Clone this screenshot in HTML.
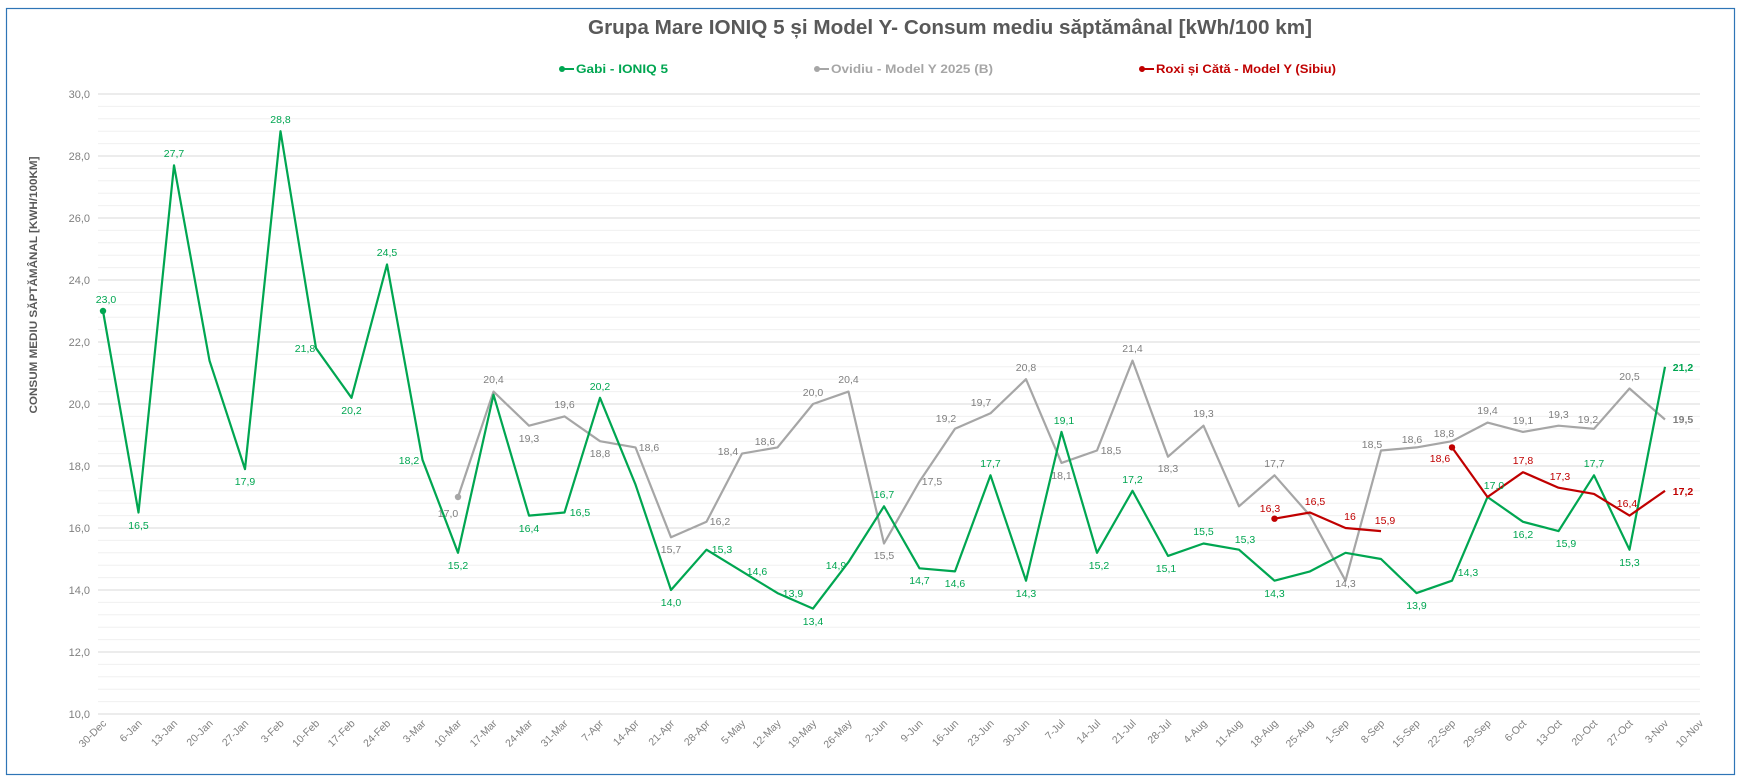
<!DOCTYPE html>
<html><head><meta charset="utf-8"><style>
html,body{margin:0;padding:0;background:#fff;}
svg{display:block;font-family:"Liberation Sans",sans-serif;}
.g{fill:#00a651;} .gr{fill:#7f7f7f;} .r{fill:#c00000;}
.xl{font-size:10.5px;fill:#808080;}
.yl{font-size:11px;fill:#808080;}
.dl text{font-size:10.5px;text-anchor:middle;}
</style></head><body>
<svg width="1745" height="783" viewBox="0 0 1745 783" xmlns="http://www.w3.org/2000/svg">
<rect x="0" y="0" width="1745" height="783" fill="#fff"/>
<rect x="6.5" y="8.5" width="1728" height="766" fill="#fff" stroke="#2e75b6" stroke-width="1.2"/>
<text x="950" y="34" text-anchor="middle" font-size="20" font-weight="bold" fill="#595959" textLength="724" lengthAdjust="spacingAndGlyphs">Grupa Mare IONIQ 5 și Model Y- Consum mediu săptămânal [kWh/100 km]</text>
<g font-size="12" font-weight="bold">
<line x1="560" y1="69" x2="574" y2="69" stroke="#00a651" stroke-width="2"/><circle cx="562" cy="69" r="3" fill="#00a651"/>
<text x="576" y="73" fill="#00a651" textLength="92" lengthAdjust="spacingAndGlyphs">Gabi - IONIQ 5</text>
<line x1="815" y1="69" x2="829" y2="69" stroke="#a6a6a6" stroke-width="2"/><circle cx="817" cy="69" r="3" fill="#a6a6a6"/>
<text x="831" y="73" fill="#a6a6a6" textLength="162" lengthAdjust="spacingAndGlyphs">Ovidiu - Model Y 2025 (B)</text>
<line x1="1140" y1="69" x2="1154" y2="69" stroke="#c00000" stroke-width="2"/><circle cx="1142" cy="69" r="3" fill="#c00000"/>
<text x="1156" y="73" fill="#c00000" textLength="180" lengthAdjust="spacingAndGlyphs">Roxi și Cătă - Model Y (Sibiu)</text>
</g>
<path d="M98 106.4H1700M98 118.8H1700M98 131.2H1700M98 143.6H1700M98 168.4H1700M98 180.8H1700M98 193.2H1700M98 205.6H1700M98 230.4H1700M98 242.8H1700M98 255.2H1700M98 267.6H1700M98 292.4H1700M98 304.8H1700M98 317.2H1700M98 329.6H1700M98 354.4H1700M98 366.8H1700M98 379.2H1700M98 391.6H1700M98 416.4H1700M98 428.8H1700M98 441.2H1700M98 453.6H1700M98 478.4H1700M98 490.8H1700M98 503.2H1700M98 515.6H1700M98 540.4H1700M98 552.8H1700M98 565.2H1700M98 577.6H1700M98 602.4H1700M98 614.8H1700M98 627.2H1700M98 639.6H1700M98 664.4H1700M98 676.8H1700M98 689.2H1700M98 701.6H1700" stroke="#f0f0f0" stroke-width="1"/>
<path d="M98 94H1700M98 156H1700M98 218H1700M98 280H1700M98 342H1700M98 404H1700M98 466H1700M98 528H1700M98 590H1700M98 652H1700M98 714H1700" stroke="#d9d9d9" stroke-width="1"/>
<g class="yl" text-anchor="end">
<text x="90" y="98">30,0</text><text x="90" y="160">28,0</text><text x="90" y="222">26,0</text><text x="90" y="284">24,0</text><text x="90" y="346">22,0</text><text x="90" y="408">20,0</text><text x="90" y="470">18,0</text><text x="90" y="532">16,0</text><text x="90" y="594">14,0</text><text x="90" y="656">12,0</text><text x="90" y="718">10,0</text>
</g>
<text transform="translate(37,285) rotate(-90)" text-anchor="middle" font-size="11" font-weight="bold" fill="#595959" textLength="257" lengthAdjust="spacingAndGlyphs">CONSUM MEDIU SĂPTĂMÂNAL [KWH/100KM]</text>
<g class="xl" text-anchor="end">
<text transform="translate(107,724) rotate(-45)">30-Dec</text>
<text transform="translate(142.5,724) rotate(-45)">6-Jan</text>
<text transform="translate(178,724) rotate(-45)">13-Jan</text>
<text transform="translate(213.5,724) rotate(-45)">20-Jan</text>
<text transform="translate(249,724) rotate(-45)">27-Jan</text>
<text transform="translate(284.5,724) rotate(-45)">3-Feb</text>
<text transform="translate(320,724) rotate(-45)">10-Feb</text>
<text transform="translate(355.5,724) rotate(-45)">17-Feb</text>
<text transform="translate(391,724) rotate(-45)">24-Feb</text>
<text transform="translate(426.5,724) rotate(-45)">3-Mar</text>
<text transform="translate(462,724) rotate(-45)">10-Mar</text>
<text transform="translate(497.5,724) rotate(-45)">17-Mar</text>
<text transform="translate(533,724) rotate(-45)">24-Mar</text>
<text transform="translate(568.5,724) rotate(-45)">31-Mar</text>
<text transform="translate(604,724) rotate(-45)">7-Apr</text>
<text transform="translate(639.5,724) rotate(-45)">14-Apr</text>
<text transform="translate(675,724) rotate(-45)">21-Apr</text>
<text transform="translate(710.5,724) rotate(-45)">28-Apr</text>
<text transform="translate(746,724) rotate(-45)">5-May</text>
<text transform="translate(781.5,724) rotate(-45)">12-May</text>
<text transform="translate(817,724) rotate(-45)">19-May</text>
<text transform="translate(852.5,724) rotate(-45)">26-May</text>
<text transform="translate(888,724) rotate(-45)">2-Jun</text>
<text transform="translate(923.5,724) rotate(-45)">9-Jun</text>
<text transform="translate(959,724) rotate(-45)">16-Jun</text>
<text transform="translate(994.5,724) rotate(-45)">23-Jun</text>
<text transform="translate(1030,724) rotate(-45)">30-Jun</text>
<text transform="translate(1065.5,724) rotate(-45)">7-Jul</text>
<text transform="translate(1101,724) rotate(-45)">14-Jul</text>
<text transform="translate(1136.5,724) rotate(-45)">21-Jul</text>
<text transform="translate(1172,724) rotate(-45)">28-Jul</text>
<text transform="translate(1207.5,724) rotate(-45)">4-Aug</text>
<text transform="translate(1243,724) rotate(-45)">11-Aug</text>
<text transform="translate(1278.5,724) rotate(-45)">18-Aug</text>
<text transform="translate(1314,724) rotate(-45)">25-Aug</text>
<text transform="translate(1349.5,724) rotate(-45)">1-Sep</text>
<text transform="translate(1385,724) rotate(-45)">8-Sep</text>
<text transform="translate(1420.5,724) rotate(-45)">15-Sep</text>
<text transform="translate(1456,724) rotate(-45)">22-Sep</text>
<text transform="translate(1491.5,724) rotate(-45)">29-Sep</text>
<text transform="translate(1527,724) rotate(-45)">6-Oct</text>
<text transform="translate(1562.5,724) rotate(-45)">13-Oct</text>
<text transform="translate(1598,724) rotate(-45)">20-Oct</text>
<text transform="translate(1633.5,724) rotate(-45)">27-Oct</text>
<text transform="translate(1669,724) rotate(-45)">3-Nov</text>
<text transform="translate(1704,724) rotate(-45)">10-Nov</text>
</g>
<polyline fill="none" stroke="#a6a6a6" stroke-width="2.2" stroke-linejoin="round" points="458,497 493.5,391.6 529,425.7 564.5,416.4 600,441.2 635.5,447.4 671,537.3 706.5,521.8 742,453.6 777.5,447.4 813,404 848.5,391.6 884,543.5 919.5,481.5 955,428.8 990.5,413.3 1026,379.2 1061.5,462.9 1097,450.5 1132.5,360.6 1168,456.7 1203.5,425.7 1239,506.3 1274.5,475.3 1310,515.6 1345.5,580.7 1381,450.5 1416.5,447.4 1452,441.2 1487.5,422.6 1523,431.9 1558.5,425.7 1594,428.8 1629.5,388.5 1665,419.5"/>
<circle cx="458" cy="497" r="3.2" fill="#a6a6a6"/>
<polyline fill="none" stroke="#00a651" stroke-width="2.2" stroke-linejoin="round" points="103,311 138.5,512.5 174,165.3 209.5,360.6 245,469.1 280.5,131.2 316,348.2 351.5,397.8 387,264.5 422.5,459.8 458,552.8 493.5,394.7 529,515.6 564.5,512.5 600,397.8 635.5,484.6 671,590 706.5,549.7 742,571.4 777.5,593.1 813,608.6 848.5,562.1 884,506.3 919.5,568.3 955,571.4 990.5,475.3 1026,580.7 1061.5,431.9 1097,552.8 1132.5,490.8 1168,555.9 1203.5,543.5 1239,549.7 1274.5,580.7 1310,571.4 1345.5,552.8 1381,559 1416.5,593.1 1452,580.7 1487.5,497 1523,521.8 1558.5,531.1 1594,475.3 1629.5,549.7 1665,366.8"/>
<circle cx="103" cy="311" r="3.2" fill="#00a651"/>
<polyline fill="none" stroke="#c00000" stroke-width="2.2" stroke-linejoin="round" points="1274.5,518.7 1310,512.5 1345.5,528 1381,531.1"/>
<polyline fill="none" stroke="#c00000" stroke-width="2.2" stroke-linejoin="round" points="1452,447.4 1487.5,497 1523,472.2 1558.5,487.7 1594,493.9 1629.5,515.6 1665,490.8"/>
<circle cx="1274.5" cy="518.7" r="3.2" fill="#c00000"/>
<circle cx="1452" cy="447.4" r="3.2" fill="#c00000"/>
<g class="dl gr">
<text x="448" y="517">17,0</text>
<text x="493.5" y="383">20,4</text>
<text x="529" y="442">19,3</text>
<text x="564.5" y="408">19,6</text>
<text x="600" y="457">18,8</text>
<text x="649" y="451">18,6</text>
<text x="671" y="553">15,7</text>
<text x="720" y="525">16,2</text>
<text x="728" y="455">18,4</text>
<text x="765" y="445">18,6</text>
<text x="813" y="396">20,0</text>
<text x="848.5" y="383">20,4</text>
<text x="884" y="559">15,5</text>
<text x="932" y="485">17,5</text>
<text x="946" y="422">19,2</text>
<text x="981" y="406">19,7</text>
<text x="1026" y="371">20,8</text>
<text x="1061.5" y="479">18,1</text>
<text x="1111" y="454">18,5</text>
<text x="1132.5" y="352">21,4</text>
<text x="1168" y="472">18,3</text>
<text x="1203.5" y="417">19,3</text>
<text x="1274.5" y="467">17,7</text>
<text x="1345.5" y="587">14,3</text>
<text x="1372" y="448">18,5</text>
<text x="1412" y="443">18,6</text>
<text x="1444" y="437">18,8</text>
<text x="1487.5" y="414">19,4</text>
<text x="1523" y="424">19,1</text>
<text x="1558.5" y="418">19,3</text>
<text x="1588" y="423">19,2</text>
<text x="1629.5" y="380">20,5</text>
<text x="1683" y="423" font-weight="bold">19,5</text>
</g>
<g class="dl g">
<text x="106" y="303">23,0</text>
<text x="138.5" y="529">16,5</text>
<text x="174" y="157">27,7</text>
<text x="245" y="485">17,9</text>
<text x="280.5" y="123">28,8</text>
<text x="305" y="352">21,8</text>
<text x="351.5" y="414">20,2</text>
<text x="387" y="256">24,5</text>
<text x="409" y="464">18,2</text>
<text x="458" y="569">15,2</text>
<text x="529" y="532">16,4</text>
<text x="580" y="516">16,5</text>
<text x="600" y="390">20,2</text>
<text x="671" y="606">14,0</text>
<text x="722" y="553">15,3</text>
<text x="757" y="575">14,6</text>
<text x="793" y="597">13,9</text>
<text x="813" y="625">13,4</text>
<text x="836" y="569">14,9</text>
<text x="884" y="498">16,7</text>
<text x="919.5" y="584">14,7</text>
<text x="955" y="587">14,6</text>
<text x="990.5" y="467">17,7</text>
<text x="1026" y="597">14,3</text>
<text x="1064" y="424">19,1</text>
<text x="1099" y="569">15,2</text>
<text x="1132.5" y="483">17,2</text>
<text x="1166" y="572">15,1</text>
<text x="1203.5" y="535">15,5</text>
<text x="1245" y="543">15,3</text>
<text x="1274.5" y="597">14,3</text>
<text x="1416.5" y="609">13,9</text>
<text x="1468" y="576">14,3</text>
<text x="1494" y="489">17,0</text>
<text x="1523" y="538">16,2</text>
<text x="1566" y="547">15,9</text>
<text x="1594" y="467">17,7</text>
<text x="1629.5" y="566">15,3</text>
<text x="1683" y="371" font-weight="bold">21,2</text>
</g>
<g class="dl r">
<text x="1270" y="512">16,3</text>
<text x="1315" y="505">16,5</text>
<text x="1350" y="520">16</text>
<text x="1385" y="524">15,9</text>
<text x="1440" y="462">18,6</text>
<text x="1523" y="464">17,8</text>
<text x="1560" y="480">17,3</text>
<text x="1627" y="507">16,4</text>
<text x="1683" y="495" font-weight="bold">17,2</text>
</g>
</svg>
</body></html>
